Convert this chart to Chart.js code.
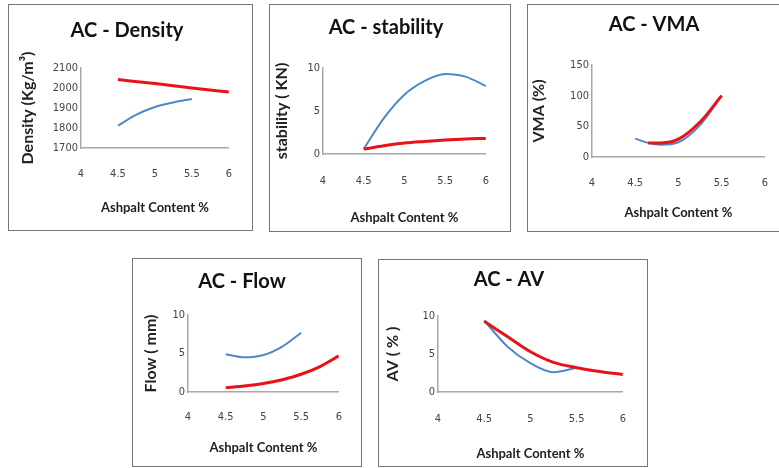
<!DOCTYPE html>
<html>
<head>
<meta charset="utf-8">
<script src="https://cdn.jsdelivr.net/npm/chart.js@4.4.1/dist/chart.umd.min.js"></script>
<style>
  body { margin: 0; background: #fff; width: 779px; height: 468px; overflow: hidden; position: relative; }
  .panel { position: absolute; border: 1px solid #767676; box-sizing: border-box; background: #fff; }
  .panel div { position: absolute; left: 0; top: 0; right: 0; bottom: 0; }
</style>
</head>
<body>
<div class="panel" style="left:8px;top:4px;width:245px;height:227px"><div><canvas id="densityChart"></canvas></div></div>
<div class="panel" style="left:269px;top:4px;width:242px;height:228px"><div><canvas id="stabilityChart"></canvas></div></div>
<div class="panel" style="left:527px;top:4px;width:262px;height:228px"><div><canvas id="vmaChart"></canvas></div></div>
<div class="panel" style="left:132px;top:258px;width:230px;height:209px"><div><canvas id="flowChart"></canvas></div></div>
<div class="panel" style="left:378px;top:259px;width:270px;height:208px"><div><canvas id="avChart"></canvas></div></div>
<script>
// asphalt content % (x axis)
const xTicks = [4, 4.5, 5, 5.5, 6];

// AC - Density
const densityRedX = [4.5, 5, 5.5, 6];
const densityRed = [2042, 2022, 2000, 1980];
const densityBlueX = [4.5, 4.75, 5, 5.25, 5.5];
const densityBlue = [1812, 1867, 1905, 1928, 1945];

// AC - stability
const stabilityRedX = [4.5, 4.75, 5, 5.25, 5.5, 5.75, 6];
const stabilityRed = [0.58, 0.96, 1.27, 1.46, 1.62, 1.74, 1.81];
const stabilityBlueX = [4.5, 4.75, 5, 5.25, 5.5, 5.75, 6];
const stabilityBlue = [0.58, 4.2, 6.9, 8.5, 9.3, 9.0, 7.9];

// AC - VMA
const vmaRedX = [4.65, 4.8, 5, 5.25, 5.5];
const vmaRed = [23, 23, 29, 57, 100];
const vmaBlueX = [4.5, 4.65, 4.8, 5, 5.25, 5.5];
const vmaBlue = [30, 23, 20, 24, 52, 100];

// AC - Flow
const flowRedX = [4.5, 4.75, 5, 5.25, 5.5, 5.75, 6];
const flowRed = [0.55, 0.78, 1.1, 1.6, 2.3, 3.3, 4.7];
const flowBlueX = [4.5, 4.75, 5, 5.25, 5.5];
const flowBlue = [4.9, 4.5, 4.8, 5.9, 7.7];

// AC - AV
const avRedX = [4.5, 4.75, 5, 5.25, 5.5, 5.75, 6];
const avRed = [9.3, 7.3, 5.3, 3.9, 3.2, 2.7, 2.3];
const avBlueX = [4.5, 4.75, 5, 5.25, 5.5];
const avBlue = [9.4, 6.0, 3.8, 2.6, 3.2];

const RED = 'rgb(232, 18, 24)';
const BLUE = 'rgb(79, 134, 204)';
const TICK_FONT = '"Liberation Sans Narrow", "DejaVu Sans Condensed", Lato, sans-serif';

function pts(xs, ys) {
  return xs.map((x, i) => ({ x: x, y: ys[i] }));
}

function makeChart(id, cfg) {
  const ctx = document.getElementById(id).getContext('2d');
  return new Chart(ctx, {
    type: 'line',
    data: {
      datasets: [
        { data: pts(cfg.redX, cfg.red), borderColor: RED, borderWidth: 3, pointRadius: 0, cubicInterpolationMode: 'monotone', fill: false },
        { data: pts(cfg.blueX, cfg.blue), borderColor: BLUE, borderWidth: 2, pointRadius: 0, cubicInterpolationMode: 'monotone', fill: false }
      ]
    },
    options: {
      responsive: true,
      maintainAspectRatio: false,
      animation: false,
      layout: { padding: { left: 0, right: cfg.padRight, top: 0, bottom: 0 } },
      plugins: {
        legend: { display: false },
        tooltip: { enabled: false },
        title: {
          display: true,
          text: cfg.title,
          color: '#111',
          font: { family: 'Lato', size: 20, weight: 'bold' },
          padding: { top: cfg.titleTop, bottom: cfg.titleBottom }
        }
      },
      scales: {
        x: {
          type: 'linear',
          min: 4,
          max: 6,
          afterBuildTicks: function (scale) { scale.ticks = xTicks.map(v => ({ value: v })); },
          afterFit: function (scale) { scale.height = cfg.xHeight; },
          grid: { display: false, drawTicks: false },
          border: { display: true, color: '#a8a8a8', width: 1.5 },
          ticks: { color: '#444', padding: cfg.xTickPad, font: { family: TICK_FONT, size: 11 }, callback: v => String(v) },
          title: {
            display: true,
            text: 'Ashpalt Content %',
            color: '#222',
            font: { family: 'Lato', size: 13, weight: 'bold' },
            padding: { top: 0, bottom: cfg.xTitleBottom }
          }
        },
        y: {
          min: cfg.yMin,
          max: cfg.yMax,
          afterFit: function (scale) { scale.width = cfg.yWidth; },
          grid: { display: false, drawTicks: false },
          border: { display: true, color: '#a8a8a8', width: 1.5 },
          ticks: { stepSize: cfg.yStep, color: '#444', padding: 3, font: { family: TICK_FONT, size: 11 }, callback: v => String(v) },
          title: {
            display: true,
            text: cfg.yTitle,
            color: '#222',
            font: { family: 'Lato', size: 16, weight: 'bold' },
            padding: { top: cfg.yTitleLeft, bottom: 0 }
          }
        }
      }
    }
  });
}

makeChart('densityChart', {
  title: 'AC - Density', yTitle: 'Density (Kg/m\u00B3)',
  redX: densityRedX, red: densityRed, blueX: densityBlueX, blue: densityBlue,
  yMin: 1700, yMax: 2100, yStep: 100,
  yWidth: 72, xHeight: 82, padRight: 7, titleTop: 14, titleBottom: 25,
  xTickPad: 20, xTitleBottom: 14, yTitleLeft: 9
});

makeChart('stabilityChart', {
  title: 'AC - stability', yTitle: 'stability ( KN)',
  redX: stabilityRedX, red: stabilityRed, blueX: stabilityBlueX, blue: stabilityBlue,
  yMin: 0, yMax: 10, yStep: 5,
  yWidth: 53, xHeight: 77, padRight: 8, titleTop: 11, titleBottom: 28,
  xTickPad: 21, xTitleBottom: 5, yTitleLeft: 2
});

makeChart('vmaChart', {
  title: 'AC - VMA', yTitle: 'VMA (%)',
  redX: vmaRedX, red: vmaRed, blueX: vmaBlueX, blue: vmaBlue,
  yMin: 0, yMax: 150, yStep: 50,
  yWidth: 64, xHeight: 74, padRight: 8, titleTop: 8, titleBottom: 28,
  xTickPad: 20, xTitleBottom: 10, yTitleLeft: 1
});

makeChart('flowChart', {
  title: 'AC - Flow', yTitle: 'Flow ( mm)',
  redX: flowRedX, red: flowRed, blueX: flowBlueX, blue: flowBlue,
  yMin: 0, yMax: 10, yStep: 5,
  yWidth: 55, xHeight: 74, padRight: 10, titleTop: 11, titleBottom: 21,
  xTickPad: 19, xTitleBottom: 10, yTitleLeft: 8
});

makeChart('avChart', {
  title: 'AC - AV', yTitle: 'AV ( % )',
  redX: avRedX, red: avRed, blueX: avBlueX, blue: avBlue,
  yMin: 0, yMax: 10, yStep: 5,
  yWidth: 59, xHeight: 74, padRight: 8, titleTop: 8, titleBottom: 24,
  xTickPad: 21, xTitleBottom: 4, yTitleLeft: 4
});
</script>
</body>
</html>
